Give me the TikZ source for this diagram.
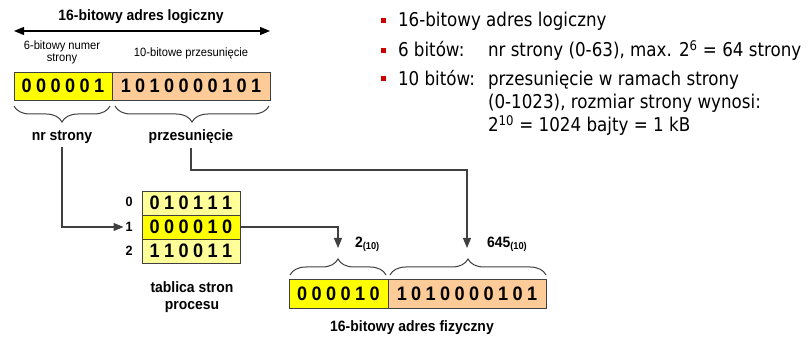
\documentclass[tikz,border=0pt]{standalone}
\usepackage{fontspec}
\setmainfont[FakeStretch=0.93]{Liberation Sans}
\newfontfamily\tahoma[FakeStretch=0.88]{DejaVu Sans}
\usetikzlibrary{decorations.pathreplacing,arrows.meta}
\definecolor{bitYellow}{HTML}{FFFF00}
\definecolor{bitOrange}{HTML}{FCCB98}
\definecolor{bitLight}{HTML}{FFFF99}
\definecolor{lineGray}{HTML}{404040}
\definecolor{bulletRed}{HTML}{CC0000}
\newcommand\bg{\hspace{4.4pt}}
\tikzset{
  every node/.style={inner sep=0pt, outer sep=0pt},
  ln/.style={draw=lineGray, line width=1.1pt},
  arr/.style={ln, -{Triangle[length=10pt,width=8pt]}},
  dblarr/.style={draw=black, line width=1.1pt, {Triangle[length=10pt,width=8pt]}-{Triangle[length=10pt,width=8pt]}},
  bitbox/.style={draw=lineGray, line width=0.9pt, font=\fontsize{19.5}{20}\selectfont\bfseries, text=black},
  rowbox/.style={draw=lineGray, line width=0.9pt, minimum width=98pt, minimum height=24pt, font=\fontsize{19.5}{20}\selectfont\bfseries},
  bracestyle/.style={draw=lineGray, line width=1pt, decorate},
  lbl/.style={font=\fontsize{15}{17}\selectfont\bfseries, align=center},
  small/.style={font=\fontsize{12}{13}\selectfont, align=center},
  idx/.style={font=\fontsize{13.5}{15}\selectfont\bfseries},
  rtext/.style={font=\tahoma\fontsize{19}{21}\selectfont, anchor=base west},
  bullet/.style={fill=bulletRed, minimum size=5pt},
}
\begin{document}
\begin{tikzpicture}[x=1pt,y=-1pt]
\useasboundingbox (0,0) rectangle (809,339);
% ---- logical address ----
\node[lbl] (title) at (141,17) {16-bitowy adres logiczny};
\coordinate (la) at (14,31);
\coordinate (lb) at (270,31);
\draw[dblarr] (la) -- (lb);
\node[small] (nrbits) at (62,52) {6-bitowy numer\\[-1pt]strony};
\node[small] (offbits) at (191,53) {10-bitowe przesunięcie};
\node[bitbox, fill=bitYellow, minimum width=98pt, minimum height=28pt] (ly) at (63,86) {0\bg0\bg0\bg0\bg0\bg1};
\node[bitbox, fill=bitOrange, minimum width=158pt, minimum height=28pt, anchor=west] (lo) at (ly.east) {1\bg0\bg1\bg0\bg0\bg0\bg0\bg1\bg0\bg1};
\draw[bracestyle, decoration={brace, mirror, amplitude=16pt}] (14,106) -- (110,106);
\draw[bracestyle, decoration={brace, mirror, amplitude=16pt}] (115,106) -- (269,106);
\node[lbl] (ns) at (62,137) {nr strony};
\node[lbl] (pz) at (191,137) {przesunięcie};
% ---- page table ----
\node[rowbox, fill=bitLight] (r0) at (191,203) {0\bg1\bg0\bg1\bg1\bg1};
\node[rowbox, fill=bitYellow] (r1) at (191,227) {0\bg0\bg0\bg0\bg1\bg0};
\node[rowbox, fill=bitLight] (r2) at (191,251) {1\bg1\bg0\bg0\bg1\bg1};
\node[idx] (l0) at (129,202) {0};
\node[idx] (l1) at (129,227) {1};
\node[idx] (l2) at (129,251) {2};
\node[lbl] (tab) at (192,297) {tablica stron\\[0pt]procesu};
% ---- physical address ----
\node[bitbox, fill=bitYellow, minimum width=99pt, minimum height=29pt] (py) at (338.5,293.5) {0\bg0\bg0\bg0\bg1\bg0};
\node[bitbox, fill=bitOrange, minimum width=158pt, minimum height=29pt, anchor=west] (po) at (py.east) {1\bg0\bg1\bg0\bg0\bg0\bg0\bg1\bg0\bg1};
\draw[bracestyle, decoration={brace, amplitude=16pt}] (290,275) -- (386,275);
\draw[bracestyle, decoration={brace, amplitude=16pt}] (390,275) -- (546,275);
\node[lbl] (phys) at (412,328) {16-bitowy adres fizyczny};
\coordinate (t2) at (338,248);
\coordinate (t645) at (467,248);
\node[lbl, anchor=west] (v2) at (355,244) {2\textsubscript{\fontsize{10}{10}\selectfont(10)}};
\node[lbl, anchor=west] (v645) at (487,244) {645\textsubscript{\fontsize{10}{10}\selectfont(10)}};
% ---- connectors ----
\draw[arr, shorten >=2pt] ([yshift=-4pt]ns.south) |- (l1.west);
\draw[arr] (r1.east) -| (t2);
\draw[arr] ([yshift=-4pt]pz.south) -- ++(0,22) -| (t645);
% ---- right text ----
\node[bullet] (b1) at (383,21) {};
\node[bullet] (b2) at (383,51) {};
\node[bullet] (b3) at (383,79) {};
\node[rtext] (t1) at (398,27) {16-bitowy adres logiczny};
\node[rtext] (t2a) at (398,57) {6 bitów:};
\node[rtext] (t2b) at (488,57) {nr strony (0-63), max. 2\textsuperscript{6} = 64 strony};
\node[rtext] (t3a) at (398,86) {10 bitów:};
\node[rtext] (t3b) at (488,86) {przesunięcie w ramach strony};
\node[rtext] (t4) at (488,109) {(0-1023), rozmiar strony wynosi:};
\node[rtext] (t5) at (488,132) {2\textsuperscript{10} = 1024 bajty = 1 kB};
\end{tikzpicture}
\end{document}
